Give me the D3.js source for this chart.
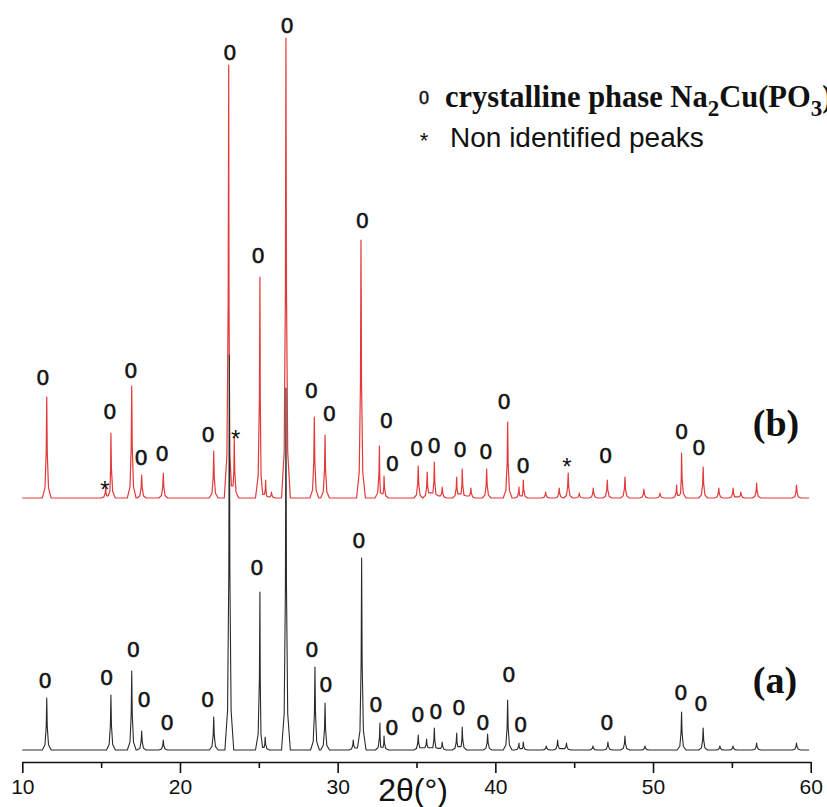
<!DOCTYPE html>
<html>
<head>
<meta charset="utf-8">
<script src="https://cdn.jsdelivr.net/npm/d3@7"></script>
<style>
  html, body { margin: 0; padding: 0; background: #fff; overflow: hidden; }
  svg { display: block; }
</style>
</head>
<body>
<svg id="chart" width="827" height="807"></svg>
<script>
// tick labels
var majorTicks = [10, 20, 30, 40, 50, 60];
var minorTicks = [15, 25, 35, 45, 55];

// pattern (a): [2theta, intensity a.u.]
var peaksA = [
    [11.55, 52], [15.62, 55], [16.94, 79], [17.57, 19], [18.94, 10], [22.14, 33],
    [23.13, 395], [25.07, 158], [25.40, 13], [26.72, 362], [28.56, 83], [29.20, 47],
    [30.99, 10], [31.52, 192], [32.68, 27], [32.94, 14], [35.11, 15], [35.64, 11],
    [36.13, 22], [36.63, 8], [37.55, 17], [37.90, 23], [39.51, 16], [40.78, 50],
    [41.50, 7], [41.77, 8], [43.23, 4], [43.95, 10], [44.51, 7], [46.19, 4],
    [47.14, 8], [48.22, 14], [49.49, 4], [51.81, 38], [53.18, 22], [54.24, 4],
    [55.07, 4], [56.57, 7], [59.10, 7]
];

// pattern (b): [2theta, intensity a.u.]
var peaksB = [
    [11.55, 101], [15.29, 11], [15.62, 65], [16.94, 112], [17.57, 23], [18.94, 25],
    [22.14, 47], [23.09, 433], [23.44, 61], [25.07, 221], [25.43, 18], [25.80, 6],
    [26.72, 460], [28.52, 81], [29.20, 63], [31.48, 258], [32.65, 52], [32.94, 22],
    [35.11, 32], [35.68, 26], [36.13, 36], [36.63, 11], [37.55, 21], [37.90, 29],
    [38.45, 10], [39.45, 29], [40.78, 76], [41.50, 11], [41.77, 18], [43.19, 6],
    [44.05, 10], [44.62, 25], [45.32, 5], [46.21, 10], [47.10, 18], [48.22, 21],
    [49.42, 9], [50.44, 5], [51.50, 13], [51.81, 45], [53.18, 31], [54.17, 10],
    [55.08, 10], [55.57, 6], [56.57, 15], [59.10, 13]
];

// peak markers: [2theta, level a.u., symbol]
var marksA = [
    [11.44, 70, "0"], [15.35, 73, "0"], [17.04, 101, "0"], [17.72, 51, "0"],
    [19.18, 28, "0"], [21.76, 51, "0"], [24.88, 183, "0"], [28.37, 101, "0"],
    [29.26, 66, "0"], [31.35, 210, "0"], [32.43, 46, "0"], [33.44, 23, "0"],
    [35.09, 36, "0"], [36.23, 39, "0"], [37.69, 43, "0"], [39.21, 28, "0"],
    [40.86, 76, "0"], [41.60, 26, "0"], [47.08, 28, "0"], [51.77, 58, "0"],
    [53.04, 47, "0"]
];
var marksB = [
    [11.31, 121, "0"], [15.24, 18, "*"], [15.56, 87, "0"], [16.89, 128, "0"],
    [17.53, 41, "0"], [18.86, 45, "0"], [21.78, 64, "0"], [23.17, 446, "0"],
    [23.53, 69, "*"], [24.95, 243, "0"], [26.79, 473, "0"], [28.34, 108, "0"],
    [29.47, 85, "0"], [31.57, 278, "0"], [33.09, 78, "0"], [33.47, 35, "0"],
    [35.01, 50, "0"], [36.11, 53, "0"], [37.76, 49, "0"], [39.40, 47, "0"],
    [40.55, 97, "0"], [41.76, 33, "0"], [44.54, 41, "*"], [46.99, 43, "0"],
    [51.81, 67, "0"], [52.91, 51, "0"]
];

var offsetB = 252;

var svg = d3.select("#chart");

var xScale = d3.scaleLinear().domain([10, 60]).range([22.3, 810.7]);
var yScale = d3.scaleLinear().domain([0, 750]).range([750, 0]);

// build a trace from the peak list (narrow peak outline on a flat baseline)
function tracePoints(peaks) {
    var w = 0.28;
    var pts = [[10, 0]];
    peaks.forEach(function (p, i) {
        var prev = peaks[i - 1], next = peaks[i + 1];
        var lx = p[0] - w, ly = 0;
        if (prev && prev[0] + w > lx) {
            lx = (prev[0] + p[0]) / 2;
            ly = 0.2 * Math.min(prev[1], p[1]);
        }
        var rx = p[0] + w, ry = 0;
        if (next && next[0] - w < rx) {
            rx = (next[0] + p[0]) / 2;
            ry = 0.2 * Math.min(next[1], p[1]);
        }
        var dl = p[0] - lx, dr = rx - p[0];
        pts.push([lx, ly]);
        pts.push([p[0] - 0.4 * dl, Math.max(ly, 0.1 * p[1])]);
        pts.push([p[0] - 0.12 * dl, Math.max(ly, 0.45 * p[1])]);
        pts.push([p[0], p[1]]);
        pts.push([p[0] + 0.12 * dr, Math.max(ry, 0.45 * p[1])]);
        pts.push([p[0] + 0.4 * dr, Math.max(ry, 0.1 * p[1])]);
        pts.push([rx, ry]);
    });
    pts.push([59.9, 0]);
    return pts;
}

function line(offset) {
    return d3.line()
        .x(function (d) { return xScale(d[0]); })
        .y(function (d) { return yScale(d[1] + offset); });
}

// red pattern (b)
svg.append("path")
    .datum(tracePoints(peaksB))
    .attr("d", line(offsetB))
    .attr("fill", "none")
    .attr("stroke", "#e23a3a")
    .attr("stroke-width", 1.2)
    .attr("stroke-linejoin", "round");

// black pattern (a)
svg.append("path")
    .datum(tracePoints(peaksA))
    .attr("d", line(0))
    .attr("fill", "none")
    .attr("stroke", "#2a2a2a")
    .attr("stroke-width", 1.1)
    .attr("stroke-linejoin", "round");

function drawMarks(marks, offset) {
    svg.append("g").selectAll("text")
        .data(marks)
        .enter().append("text")
        .attr("x", function (d) { return xScale(d[0]); })
        .attr("y", function (d) { return yScale(d[1] + offset); })
        .attr("dy", function (d) { return d[2] == "*" ? "0.75em" : "0.36em"; })
        .attr("text-anchor", "middle")
        .style("font-family", "'Liberation Sans', Arial, sans-serif")
        .style("font-size", function (d) { return d[2] == "*" ? "24px" : "22px"; })
        .style("stroke", "#111")
        .style("stroke-width", function (d) { return d[2] == "*" ? 0 : 0.6; })
        .style("fill", "#111")
        .text(function (d) { return d[2]; });
}
drawMarks(marksA, 0);
drawMarks(marksB, offsetB);

// x axis
var axisY = 762;
var xAxis = svg.append("g")
    .attr("transform", "translate(0," + axisY + ")")
    .call(d3.axisBottom(xScale).tickValues(majorTicks).tickSize(11).tickSizeOuter(0).tickPadding(6));
xAxis.select(".domain").attr("stroke", "#111").attr("stroke-width", 1.6);
xAxis.selectAll(".tick line").attr("stroke", "#111").attr("stroke-width", 1.6);
xAxis.selectAll(".tick text")
    .style("font-family", "'Liberation Sans', Arial, sans-serif")
    .style("font-size", "21px")
    .style("fill", "#111");

var minorAxis = svg.append("g")
    .attr("transform", "translate(0," + axisY + ")")
    .call(d3.axisBottom(xScale).tickValues(minorTicks).tickSize(6).tickSizeOuter(0).tickFormat(""));
minorAxis.select(".domain").remove();
minorAxis.selectAll(".tick line").attr("stroke", "#111").attr("stroke-width", 1.6);

svg.append("text")
    .attr("x", 413)
    .attr("y", 801)
    .attr("text-anchor", "middle")
    .style("font-family", "'Liberation Sans', Arial, sans-serif")
    .style("font-size", "32px")
    .style("fill", "#111")
    .text("2θ(°)");

// pattern labels
svg.append("text")
    .attr("x", 776).attr("y", 436)
    .attr("text-anchor", "middle")
    .style("font-family", "'Liberation Serif', 'Times New Roman', serif")
    .style("font-weight", "bold")
    .style("font-size", "38px")
    .style("fill", "#111")
    .text("(b)");
svg.append("text")
    .attr("x", 775).attr("y", 693)
    .attr("text-anchor", "middle")
    .style("font-family", "'Liberation Serif', 'Times New Roman', serif")
    .style("font-weight", "bold")
    .style("font-size", "38px")
    .style("fill", "#111")
    .text("(a)");

// legend (the formula runs past the right edge, as in the original figure)
svg.append("text")
    .attr("x", 424).attr("y", 104)
    .attr("text-anchor", "middle")
    .style("font-family", "'Liberation Sans', Arial, sans-serif")
    .style("font-size", "18px")
    .style("stroke", "#111")
    .style("stroke-width", 0.5)
    .style("fill", "#111")
    .text("0");

var leg = svg.append("text")
    .attr("x", 445).attr("y", 107)
    .style("font-family", "'Liberation Serif', 'Times New Roman', serif")
    .style("font-weight", "bold")
    .style("font-size", "30.5px")
    .style("fill", "#111");
leg.append("tspan").text("crystalline phase Na");
leg.append("tspan").attr("dy", 9).style("font-size", "23px").text("2");
leg.append("tspan").attr("dy", -9).text("Cu(PO");
leg.append("tspan").attr("dy", 9).style("font-size", "23px").text("3");
leg.append("tspan").attr("dy", -9).text(")");
leg.append("tspan").attr("dy", 9).style("font-size", "23px").text("4");

svg.append("text")
    .attr("x", 424).attr("y", 148)
    .attr("text-anchor", "middle")
    .style("font-family", "'Liberation Sans', Arial, sans-serif")
    .style("font-size", "22px")
    .style("fill", "#111")
    .text("*");

svg.append("text")
    .attr("x", 450).attr("y", 147)
    .style("font-family", "'Liberation Sans', Arial, sans-serif")
    .style("font-size", "28px")
    .style("fill", "#111")
    .text("Non identified peaks");
</script>
</body>
</html>
